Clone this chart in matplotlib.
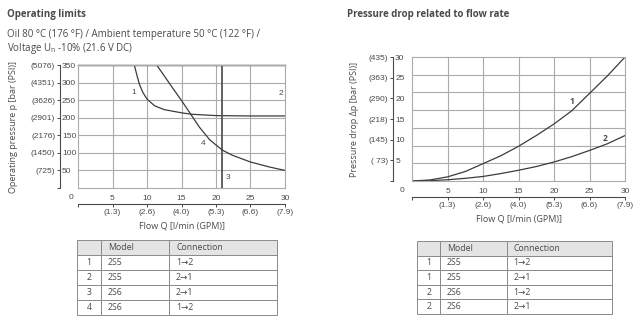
import numpy as np
import matplotlib.pyplot as plt

plt.rcParams['font.family'] = ['Open Sans', 'DejaVu Sans']

# shared flow axis
flow_ticks = [0, 5, 10, 15, 20, 25, 30]
flow_labels = ['', '5', '10', '15', '20', '25', '30']
gpm_labels = ['', '(1.3)', '(2.6)', '(4.0)', '(5.3)', '(6.6)', '(7.9)']

# operating limits
op_bar_ticks = [0, 50, 100, 150, 200, 250, 300, 350]
op_bar_labels = ['', '50', '100', '150', '200', '250', '300', '350']
op_psi_labels = ['', '(725)', '(1450)', '(2176)', '(2901)', '(3626)', '(4351)', '(5076)']

c1_q = [8.16, 8.55, 8.9, 9.4, 10, 11.1, 12.5, 15, 16.4, 20, 25, 30]
c1_p = [350, 320, 295, 272, 253, 234, 223, 214, 210, 206, 205, 205]
c2_q = [0, 30]
c2_p = [350, 350]
c3_q = [20.9, 20.9]
c3_p = [0, 350]
c4_q = [11.4, 12.5, 13.7, 15, 16.2, 17.6, 19.1, 20.9, 22.4, 25, 27.7, 30]
c4_p = [350, 319, 285, 249, 214, 173, 137, 108, 93, 74, 60, 50]

# pressure drop
dp_bar_ticks = [0, 5, 10, 15, 20, 25, 30]
dp_bar_labels = ['', '5', '10', '15', '20', '25', '30']
dp_psi_labels = ['', '( 73)', '(145)', '(218)', '(290)', '(363)', '(435)']
dp_q = [0, 2.5, 5, 7.5, 10, 12.5, 15, 17.5, 20, 22.5, 25, 27.5, 30]
dp1 = [0, 0.25, 1.0, 2.3, 4.2, 6.1, 8.4, 11.0, 13.8, 17.0, 21.2, 25.4, 30]
dp2 = [0, 0.08, 0.3, 0.65, 1.1, 1.8, 2.6, 3.5, 4.6, 5.9, 7.4, 9.0, 11.0]

# tables
op_rows = [['1', '2S5', '1→2'], ['2', '2S5', '2→1'], ['3', '2S6', '2→1'], ['4', '2S6', '1→2']]
dp_rows = [['1', '2S5', '1→2'], ['1', '2S5', '2→1'], ['2', '2S6', '1→2'], ['2', '2S6', '2→1']]
table_header = ['', 'Model', 'Connection']

line_c = '#3c3c3c'
grid_c = '#ababab'
text_c = '#4a4a4a'
tick_font = ['Liberation Sans Narrow', 'Liberation Sans', 'DejaVu Sans']
fs = 6


def setup_axes(ax, ylim, yticks, ylabels, psi, ylabel, yoff, xoff, grid_y, ylpad):
    ax.set_xlim(0, 30)
    ax.set_ylim(*ylim)
    ax.set_xticks(flow_ticks[1:-1])
    ax.set_yticks(grid_y)
    ax.tick_params(length=0, labelbottom=False, labelleft=False)
    ax.grid(True, color=grid_c, lw=0.8)
    for s in ax.spines.values():
        s.set_color(grid_c)
        s.set_linewidth(0.8)

    # y axis: bar values right of the bracket, PSI values left of it
    sy = ax.secondary_yaxis(yoff)
    sy.set_yticks(yticks, labels=psi)
    sy.tick_params(length=2.5, width=0.7, color=text_c, labelsize=fs, labelcolor=text_c, pad=1)
    sy.spines['left'].set_color(text_c)
    sy.spines['left'].set_linewidth(0.8)
    sy.set_ylabel(ylabel, fontsize=6.5, color=text_c, labelpad=ylpad)
    sy2 = ax.secondary_yaxis(yoff)
    sy2.set_alignment('right')
    sy2.set_yticks(yticks, labels=ylabels)
    sy2.tick_params(length=0, labelsize=fs, labelcolor=text_c, pad=1.5)
    sy2.spines['right'].set_visible(False)
    for t in sy.get_yticklabels() + sy2.get_yticklabels():
        t.set_family(tick_font)

    # x axis: l/min above the line, GPM below
    sx = ax.secondary_xaxis(xoff)
    sx.set_xticks(flow_ticks, labels=gpm_labels)
    sx.tick_params(length=2, width=0.7, color=text_c, labelsize=fs, labelcolor=text_c, pad=1.5)
    sx.spines['bottom'].set_color(text_c)
    sx.spines['bottom'].set_linewidth(0.8)
    sx.set_xlabel('Flow Q [l/min (GPM)]', fontsize=6.5, color=text_c, labelpad=4)
    sx2 = ax.secondary_xaxis(xoff)
    sx2.set_alignment('top')
    sx2.set_xticks(flow_ticks, labels=flow_labels)
    sx2.tick_params(length=0, labelsize=fs, labelcolor=text_c, pad=1.5)
    sx2.spines['top'].set_visible(False)
    for t in sx.get_xticklabels() + sx2.get_xticklabels():
        t.set_family(tick_font)


def draw_table(rect, rows):
    tax = fig.add_axes(rect)
    tax.axis('off')
    tb = tax.table(cellText=rows, colLabels=table_header, bbox=[0, 0, 1, 1],
                   colWidths=[0.12, 0.34, 0.54], cellLoc='left', colLoc='left')
    tb.auto_set_font_size(False)
    tb.set_fontsize(6.3)
    pads = [0.1, 0.1, 0.065]
    for (r, c), cell in tb.get_celld().items():
        cell.set_edgecolor('#8a8a8a')
        cell.set_linewidth(0.7)
        cell.get_text().set_color(text_c)
        cell.PAD = pads[c]
        if c == 0:
            cell.get_text().set_ha('center')
            cell._loc = 'center'
        if r == 0:
            cell.set_facecolor('#e4e4e4')


fig = plt.figure(figsize=(6.4, 3.21), dpi=100)

fig.text(0.011, 0.972, 'Operating limits', fontsize=7, fontweight='bold', color=text_c, va='top')
fig.text(0.011, 0.91, 'Oil 80 °C (176 °F) / Ambient temperature 50 °C (122 °F) /',
         fontsize=7, color=text_c, va='top')
fig.text(0.011, 0.873, 'Voltage U$_\\mathregular{n}$ -10% (21.6 V DC)',
         fontsize=7, color=text_c, va='top')
fig.text(0.542, 0.972, 'Pressure drop related to flow rate', fontsize=7, fontweight='bold',
         color=text_c, va='top')

# operating limits chart
ax1 = fig.add_axes([0.1219, 0.4143, 0.3234, 0.3832])
setup_axes(ax1, (0, 350), op_bar_ticks, op_bar_labels, op_psi_labels,
           'Operating pressure p [bar (PSI)]', -0.087, -0.13, op_bar_ticks[1:-1], 9)
ax1.plot(c1_q, c1_p, color=line_c, lw=0.9)
ax1.plot(c2_q, c2_p, color=line_c, lw=1.0, clip_on=False)
ax1.plot(c3_q, c3_p, color='#555555', lw=1.3)
ax1.plot(c4_q, c4_p, color=line_c, lw=0.9)
for lbl, q, p in [('1', 8.1, 272), ('2', 29.4, 270), ('4', 18.2, 128), ('3', 21.7, 29)]:
    ax1.text(q, p, lbl, fontsize=6, color=text_c, ha='center', va='center', family=tick_font)
ax1.annotate('0', xy=(0, 0), xytext=(-7, -9), textcoords='offset pixels', fontsize=fs,
             color=text_c, ha='center', va='center', family=tick_font, annotation_clip=False)

# pressure drop chart
ax2 = fig.add_axes([0.6438, 0.4361, 0.3328, 0.3863])
setup_axes(ax2, (0, 30), dp_bar_ticks, dp_bar_labels, dp_psi_labels,
           'Pressure drop Δp [bar (PSI)]', -0.089, -0.129, np.linspace(0, 30, 8)[1:-1], 7)
ax2.plot(dp_q, dp1, color=line_c, lw=0.9)
ax2.plot(dp_q, dp2, color=line_c, lw=0.9)
ax2.text(22.5, 19.3, '1', fontsize=6, fontweight='bold', color=text_c, ha='center', va='center')
ax2.text(27.2, 10.2, '2', fontsize=6, fontweight='bold', color=text_c, ha='center', va='center')
ax2.annotate('0', xy=(0, 0), xytext=(-10, -9), textcoords='offset pixels', fontsize=fs,
             color=text_c, ha='center', va='center', family=tick_font, annotation_clip=False)

draw_table([0.1203, 0.0187, 0.3125, 0.2336], op_rows)
draw_table([0.6516, 0.0218, 0.3047, 0.2274], dp_rows)

fig.savefig('out.png', dpi=100)
